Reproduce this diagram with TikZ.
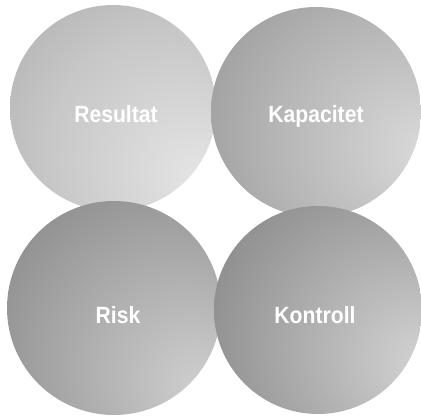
\documentclass[tikz,border=0pt]{standalone}
\usepackage{fontspec}
\setmainfont{Liberation Sans}
\newfontfamily\wordfont[FakeStretch=0.9]{Liberation Sans}
\usepackage{tikz}
\pgfdeclareradialshading{ballA}{\pgfpoint{22bp}{-18bp}}{color(0bp)=(black!10); color(30bp)=(black!22); color(80bp)=(black!48)}
\pgfdeclareradialshading{ballB}{\pgfpoint{28bp}{-10bp}}{color(0bp)=(black!14); color(30bp)=(black!30); color(80bp)=(black!60)}
\pgfdeclareradialshading{ballC}{\pgfpoint{22bp}{-20bp}}{color(0bp)=(black!18); color(30bp)=(black!36); color(80bp)=(black!68)}
\pgfdeclareradialshading{ballD}{\pgfpoint{28bp}{-14bp}}{color(0bp)=(black!16); color(30bp)=(black!36); color(80bp)=(black!70)}
\tikzset{word/.style={text=white, anchor=base, font=\wordfont\bfseries\fontsize{23.5}{25}\selectfont}}

\begin{document}
\begin{tikzpicture}[x=1pt,y=1pt]
\useasboundingbox (0,0) rectangle (421,416);
\shade[shading=ballA] (113,308) circle (103);
\shade[shading=ballB] (316,304) circle (105);
\shade[shading=ballC] (114,108) circle (107);
\shade[shading=ballD] (318,106) circle (104);
\node[word] (resultat) at (116,293) {Resultat};
\node[word] (kapacitet) at (316,293) {Kapacitet};
\node[word] (risk) at (118,93) {Risk};
\node[word] (kontroll) at (315,93) {Kontroll};
\end{tikzpicture}
\end{document}
